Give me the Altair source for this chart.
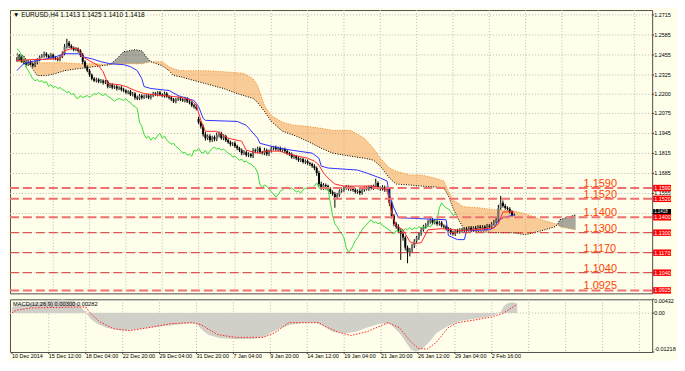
import altair as alt
import pandas as pd

# ---------------- data ----------------
close = [
    1.2430, 1.2443, 1.2417, 1.2405, 1.2392, 1.2411, 1.2398, 1.2385, 1.2405, 1.2424,
    1.2443, 1.2450, 1.2463, 1.2450, 1.2437, 1.2456, 1.2437, 1.2430, 1.2424, 1.2443,
    1.2463, 1.2508, 1.2534, 1.2514, 1.2501, 1.2489, 1.2495, 1.2482, 1.2456, 1.2411,
    1.2379, 1.2353, 1.2327, 1.2301, 1.2288, 1.2295, 1.2282, 1.2288, 1.2275, 1.2282,
    1.2250, 1.2262, 1.2243, 1.2250, 1.2237, 1.2243, 1.2230, 1.2224, 1.2211, 1.2217,
    1.2198, 1.2204, 1.2178, 1.2172, 1.2191, 1.2178, 1.2185, 1.2191, 1.2178, 1.2191,
    1.2204, 1.2198, 1.2211, 1.2198, 1.2191, 1.2204, 1.2185, 1.2178, 1.2166, 1.2153,
    1.2166, 1.2172, 1.2166, 1.2159, 1.2172, 1.2153, 1.2146, 1.2127, 1.2120, 1.2107,
    1.2017, 1.1991, 1.1939, 1.1914, 1.1927, 1.1901, 1.1920, 1.1907, 1.1933, 1.1946,
    1.1914, 1.1927, 1.1901, 1.1888, 1.1875, 1.1881, 1.1862, 1.1849, 1.1836, 1.1817,
    1.1823, 1.1804, 1.1810, 1.1797, 1.1836, 1.1830, 1.1849, 1.1823, 1.1817, 1.1836,
    1.1810, 1.1830, 1.1849, 1.1855, 1.1843, 1.1849, 1.1836, 1.1843, 1.1830, 1.1817,
    1.1810, 1.1791, 1.1797, 1.1784, 1.1771, 1.1778, 1.1759, 1.1765, 1.1752, 1.1746,
    1.1733, 1.1720, 1.1688, 1.1616, 1.1591, 1.1610, 1.1603, 1.1584, 1.1565, 1.1552,
    1.1532, 1.1545, 1.1571, 1.1578, 1.1591, 1.1597, 1.1584, 1.1591, 1.1578, 1.1565,
    1.1571, 1.1558, 1.1578, 1.1591, 1.1584, 1.1597, 1.1591, 1.1603, 1.1623, 1.1591,
    1.1584, 1.1597, 1.1578, 1.1584, 1.1494, 1.1410, 1.1358, 1.1339, 1.1313, 1.1293,
    1.1268, 1.1203, 1.1171, 1.1190, 1.1216, 1.1248, 1.1268, 1.1293, 1.1319, 1.1339,
    1.1352, 1.1371, 1.1384, 1.1365, 1.1371, 1.1358, 1.1365, 1.1345, 1.1339, 1.1326,
    1.1319, 1.1300, 1.1293, 1.1313, 1.1306, 1.1319, 1.1313, 1.1326, 1.1319, 1.1332,
    1.1319, 1.1332, 1.1326, 1.1339, 1.1332, 1.1339, 1.1326, 1.1345, 1.1339, 1.1358,
    1.1371, 1.1384, 1.1461, 1.1494, 1.1474, 1.1461, 1.1455, 1.1436, 1.1413, 1.1418,
]
# upper / lower shadows in pips
wick_up = [
    10, 12, 8, 9, 7, 11, 9, 8, 12, 10,
    9, 11, 14, 10, 9, 12, 8, 10, 11, 13,
    15, 18, 26, 12, 10, 9, 11, 8, 10, 12,
    9, 8, 11, 7, 10, 12, 9, 11, 8, 10,
    9, 12, 10, 8, 11, 9, 10, 12, 8, 9,
    11, 10, 9, 13, 10, 8, 12, 10, 9, 11,
    12, 10, 9, 11, 8, 13, 10, 9, 11, 10,
    9, 12, 10, 8, 11, 9, 10, 8, 9, 12,
    14, 10, 12, 16, 11, 13, 10, 12, 18, 11,
    10, 12, 9, 11, 10, 8, 12, 10, 9, 11,
    13, 10, 12, 9, 14, 11, 10, 12, 9, 15,
    11, 10, 14, 9, 12, 10, 11, 9, 10, 12,
    9, 11, 10, 8, 12, 10, 9, 11, 10, 8,
    9, 12, 10, 14, 16, 12, 10, 9, 11, 10,
    12, 14, 10, 9, 11, 13, 10, 12, 9, 11,
    10, 12, 9, 11, 13, 10, 12, 9, 28, 11,
    10, 12, 9, 14, 10, 13, 11, 12, 15, 14,
    16, 12, 14, 11, 13, 10, 12, 11, 14, 12,
    10, 13, 12, 11, 14, 10, 12, 11, 9, 12,
    10, 11, 13, 9, 12, 10, 11, 9, 12, 10,
    11, 9, 12, 10, 11, 9, 10, 12, 11, 10,
    12, 14, 20, 45, 15, 12, 10, 11, 9, 7,
]
wick_dn = [
    11, 9, 12, 10, 13, 8, 10, 12, 9, 11,
    10, 8, 12, 11, 9, 10, 13, 9, 11, 10,
    9, 10, 12, 14, 11, 10, 9, 12, 14, 16,
    12, 10, 14, 11, 9, 12, 10, 11, 13, 9,
    12, 10, 11, 9, 13, 10, 12, 11, 9, 12,
    10, 12, 14, 11, 10, 12, 9, 11, 10, 12,
    10, 9, 12, 11, 10, 13, 9, 12, 11, 10,
    12, 10, 11, 9, 13, 10, 12, 11, 14, 12,
    12, 15, 14, 16, 12, 14, 11, 13, 12, 14,
    11, 13, 12, 10, 14, 12, 11, 13, 12, 14,
    12, 11, 13, 10, 12, 14, 11, 12, 10, 13,
    11, 12, 10, 13, 11, 12, 10, 11, 13, 12,
    11, 10, 12, 13, 11, 12, 10, 12, 11, 13,
    12, 14, 18, 16, 14, 12, 13, 11, 14, 12,
    70, 15, 12, 11, 13, 12, 11, 14, 12, 11,
    12, 13, 11, 12, 10, 12, 11, 13, 12, 11,
    12, 10, 13, 11, 20, 18, 16, 14, 15, 170,
    20, 18, 70, 25, 18, 16, 14, 15, 13, 12,
    12, 11, 13, 12, 11, 13, 12, 11, 13, 12,
    11, 13, 12, 14, 11, 12, 13, 11, 12, 10,
    12, 11, 13, 10, 12, 11, 12, 10, 11, 12,
    11, 10, 13, 12, 11, 12, 10, 11, 9, 3,
]
first_open = 1.2424
gap_open = {80: 1.2040}

tenkan_i = [0, 5, 19, 21, 25, 27, 29, 32, 36, 38, 40, 45, 48, 52, 56, 60, 64, 69, 73, 77,
            79, 81, 83, 88, 93, 99, 101, 106, 110, 116, 118, 124, 128, 131, 133, 135, 137, 140, 144, 157,
            163, 165, 167, 170, 173, 175, 178, 181, 187, 197, 210, 212, 214, 219]
tenkan_p = [1.2417, 1.2424, 1.2430, 1.2482, 1.2501, 1.2495, 1.2443, 1.2417, 1.2385, 1.2346,
            1.2269, 1.2262, 1.2250, 1.2224, 1.2204, 1.2198, 1.2191, 1.2185, 1.2178, 1.2159,
            1.2127, 1.2030, 1.1959, 1.1959, 1.1914, 1.1894, 1.1836, 1.1817, 1.1830, 1.1830,
            1.1817, 1.1797, 1.1784, 1.1765, 1.1739, 1.1688, 1.1655, 1.1616, 1.1603, 1.1603,
            1.1578, 1.1429, 1.1345, 1.1319, 1.1242, 1.1229, 1.1235, 1.1319, 1.1326, 1.1313,
            1.1332, 1.1358, 1.1435, 1.1435]

kijun_i = [0, 3, 8, 13, 17, 21, 27, 29, 33, 37, 41, 47, 50, 53, 55, 56, 59, 67, 71, 75,
           78, 80, 82, 83, 97, 101, 106, 107, 112, 116, 121, 130, 133, 134, 137, 150, 154, 160, 163, 164,
           166, 168, 189, 190, 194, 197, 198, 208, 210, 212, 214, 219]
kijun_p = [1.2353, 1.2398, 1.2417, 1.2430, 1.2443, 1.2463, 1.2463, 1.2443, 1.2430, 1.2411,
           1.2398, 1.2392, 1.2379, 1.2353, 1.2301, 1.2250, 1.2237, 1.2224, 1.2191, 1.2172,
           1.2159, 1.2120, 1.2043, 1.2030, 1.2023, 1.1998, 1.1914, 1.1881, 1.1862, 1.1849,
           1.1836, 1.1817, 1.1784, 1.1733, 1.1720, 1.1707, 1.1688, 1.1655, 1.1636, 1.1545,
           1.1461, 1.1397, 1.1384, 1.1281, 1.1255, 1.1255, 1.1313, 1.1319, 1.1332, 1.1377,
           1.1397, 1.1416]

cloud_i = [0, 3, 5, 9, 13, 17, 21, 27, 34, 41, 44, 47, 52, 55, 57, 59, 64, 67, 69, 72,
           75, 83, 91, 97, 100, 104, 106, 109, 112, 117, 122, 128, 134, 139, 147, 153, 157, 160, 164, 167,
           173, 178, 184, 188, 190, 192, 194, 196, 197, 204, 211, 218, 224, 231, 237, 238, 239, 246]
span_a = [1.2411, 1.2411, 1.2404, 1.2404, 1.2404, 1.2404, 1.2404, 1.2398, 1.2398, 1.2392,
          1.2398, 1.2398, 1.2398, 1.2398, 1.2404, 1.2411, 1.2411, 1.2379, 1.2366, 1.2353,
          1.2353, 1.2353, 1.2346, 1.2340, 1.2334, 1.2301, 1.2256, 1.2127, 1.2062, 1.2017,
          1.1998, 1.1991, 1.1978, 1.1965, 1.1965, 1.1914, 1.1849, 1.1784, 1.1720, 1.1700,
          1.1675, 1.1675, 1.1655, 1.1636, 1.1571, 1.1513, 1.1494, 1.1474, 1.1468, 1.1461,
          1.1448, 1.1442, 1.1423, 1.1384, 1.1358, 1.1352, 1.1339, 1.1319]
span_b = [1.2463, 1.2450, 1.2404, 1.2321, 1.2321, 1.2334, 1.2353, 1.2366, 1.2379, 1.2392,
          1.2430, 1.2476, 1.2489, 1.2482, 1.2443, 1.2411, 1.2385, 1.2353, 1.2321, 1.2314,
          1.2301, 1.2269, 1.2237, 1.2204, 1.2191, 1.2172, 1.2146, 1.2088, 1.2023, 1.1959,
          1.1933, 1.1894, 1.1849, 1.1817, 1.1797, 1.1784, 1.1771, 1.1733, 1.1655, 1.1616,
          1.1610, 1.1603, 1.1597, 1.1591, 1.1539, 1.1461, 1.1397, 1.1345, 1.1313, 1.1306,
          1.1300, 1.1300, 1.1287, 1.1313, 1.1339, 1.1352, 1.1384, 1.1416]

macd_i = [0, 5, 12, 18, 22, 27, 29, 32, 34, 37, 41, 48, 53, 60, 69, 77, 80, 82, 85, 90,
          97, 104, 109, 112, 116, 121, 128, 132, 135, 139, 144, 149, 154, 160, 164, 168, 171, 173, 175, 178,
          181, 184, 189, 194, 199, 205, 209, 212, 213, 215, 217, 219]
macd_v = [0.0020, 0.0027, 0.0034, 0.0040, 0.0043, 0.0038, 0.0025, 0.0003, -0.0018, -0.0033,
          -0.0046, -0.0055, -0.0052, -0.0045, -0.0038, -0.0032, -0.0033, -0.0050, -0.0068, -0.0078,
          -0.0082, -0.0081, -0.0076, -0.0062, -0.0048, -0.0036, -0.0030, -0.0031, -0.0040, -0.0058,
          -0.0064, -0.0058, -0.0045, -0.0032, -0.0034, -0.0062, -0.0094, -0.0115, -0.0121, -0.0112,
          -0.0090, -0.0062, -0.0040, -0.0025, -0.0019, -0.0014, -0.0007, 0.0005, 0.0020, 0.0032,
          0.0034, 0.0030]
signal_i = [0, 2, 8, 27, 32, 34, 38, 44, 51, 59, 69, 78, 82, 89, 97, 109, 114, 120, 125, 133,
            137, 142, 147, 154, 163, 168, 172, 176, 180, 184, 189, 193, 201, 208, 213, 215, 219]
signal_v = [0.0001, 0.0009, 0.0016, 0.0019, 0.0019, 0.0000, -0.0027, -0.0049, -0.0055, -0.0046,
            -0.0033, -0.0030, -0.0036, -0.0067, -0.0076, -0.0076, -0.0061, -0.0030, -0.0030, -0.0030,
            -0.0046, -0.0061, -0.0070, -0.0058, -0.0030, -0.0046, -0.0082, -0.0110, -0.0113, -0.0091,
            -0.0046, -0.0030, -0.0021, -0.0012, 0.0000, 0.0009, 0.00282]

levels_major = [1.1590, 1.1520, 1.1400, 1.0925]
levels_minor = [1.1300, 1.1170, 1.1040]
bid_price = 1.1418
price_ticks = [1.2715, 1.2585, 1.2455, 1.2325, 1.2200, 1.2075, 1.1945, 1.1815,
               1.1685, 1.1555, 1.1425, 1.1300, 1.1170, 1.1040]
price_labels_shown = [1.2715, 1.2585, 1.2455, 1.2325, 1.2200, 1.2075, 1.1945, 1.1815,
                      1.1685, 1.1555]
macd_ticks = [0.00432, 0.0, -0.01218]
macd_tick_labels = ["0.00432", "0.00", "-0.01218"]
time_idx = [0, 16, 32, 48, 64, 80, 96, 112, 128, 144, 160, 176, 192, 208]
time_labels = ["10 Dec 2014", "15 Dec 12:00", "18 Dec 04:00", "22 Dec 20:00", "29 Dec 04:00",
               "31 Dec 20:00", "7 Jan 04:00", "9 Jan 20:00", "14 Jan 12:00", "19 Jan 04:00",
               "21 Jan 20:00", "26 Jan 12:00", "29 Jan 04:00", "2 Feb 16:00"]
grid_idx = [16, 32, 48, 64, 80, 96, 112, 128, 144, 160, 176, 192, 208, 224, 240, 256, 272]
header_text = "\u25BC EURUSD,H4  1.1413 1.1425 1.1410 1.1418"
macd_text = "MACD(12,26,9) 0.00300 0.00282"
CHIKOU_SHIFT = 26
LABEL_BAR = 249.5

# ---------------- layout ----------------
W = 646
H_MAIN = 285
H_MACD = 53
X_DOMAIN = [-0.84, 277.5]
Y_DOMAIN = [1.09058, 1.27469]
M_DOMAIN = [-0.01218, 0.00432]
BOX_HALF = 0.0021
FONT = "Liberation Sans"
BG = "#FEFEEA"
GRID = "#B8B8B8"
AX_FS = 5.5

# ---------------- tables ----------------
rows = []
prev = first_open
for i, c in enumerate(close):
    o = gap_open.get(i, prev)
    rows.append({"i": i, "open": o, "close": c,
                 "high": max(o, c) + wick_up[i] * 0.0001,
                 "low": min(o, c) - wick_dn[i] * 0.0001})
    prev = c
candle_df = pd.DataFrame(rows)

chikou_df = pd.DataFrame([{"i": i - CHIKOU_SHIFT, "p": c}
                          for i, c in enumerate(close) if i >= CHIKOU_SHIFT])
tenkan_df = pd.DataFrame({"i": tenkan_i, "p": tenkan_p})
kijun_df = pd.DataFrame({"i": kijun_i, "p": kijun_p})
cloud_df = pd.DataFrame({"i": cloud_i, "a": span_a, "b": span_b})

cloud_rows = []
seg = 0
cur = None
pending = None
for i, a, b in zip(cloud_i, span_a, span_b):
    kind = "up" if a > b else ("down" if a < b else None)
    pt = {"i": i, "a": a, "b": b}
    if kind is None:
        if cur is not None:
            cloud_rows.append({**pt, "seg": seg, "kind": cur})
        seg += 1
        cur = None
        pending = pt
        continue
    if cur is None:
        cur = kind
        if pending is not None:
            cloud_rows.append({**pending, "seg": seg, "kind": cur})
            pending = None
    elif kind != cur:
        seg += 1
        cur = kind
    cloud_rows.append({**pt, "seg": seg, "kind": cur})
cloud_seg_df = pd.DataFrame(cloud_rows)

all_levels = levels_major + levels_minor
major_df = pd.DataFrame({"p": levels_major})
minor_df = pd.DataFrame({"p": levels_minor})
level_df = pd.DataFrame({"p": all_levels,
                         "lab": [f"{v:.4f}" for v in all_levels],
                         "lx": [LABEL_BAR] * len(all_levels),
                         "lo": [v - BOX_HALF for v in all_levels],
                         "hi": [v + BOX_HALF for v in all_levels]})
bid_df = pd.DataFrame({"p": [bid_price], "lab": [f"{bid_price:.4f}"],
                       "lo": [bid_price - 0.0004], "hi": [bid_price + 0.0036]})
pt_df = pd.DataFrame({"p": price_ticks})
pl_df = pd.DataFrame({"p": price_labels_shown, "lab": [f"{v:.4f}" for v in price_labels_shown]})
grid_df = pd.DataFrame({"i": grid_idx})
time_df = pd.DataFrame({"i": time_idx, "lab": time_labels})
macd_df = pd.DataFrame({"i": macd_i, "v": macd_v, "z": [0.0] * len(macd_i)})
signal_df = pd.DataFrame({"i": signal_i, "v": signal_v})
mt_df = pd.DataFrame({"v": macd_ticks, "lab": macd_tick_labels})

# ---------------- main panel ----------------
xs = alt.Scale(domain=X_DOMAIN, nice=False, zero=False)
ys = alt.Scale(domain=Y_DOMAIN, nice=False, zero=False)


def X(f="i"):
    return alt.X(f"{f}:Q", scale=xs, axis=None)


def Y(f):
    return alt.Y(f"{f}:Q", scale=ys, axis=None)


vgrid = alt.Chart(grid_df).mark_rule(color=GRID, strokeDash=[1, 2], strokeWidth=1).encode(x=X())
hgrid = alt.Chart(pt_df).mark_rule(color=GRID, strokeDash=[1, 2], strokeWidth=1).encode(y=Y("p"))
ptick = alt.Chart(pt_df).mark_rule(color="#404040", strokeWidth=1).encode(
    x=alt.value(W), x2=alt.value(W + 2), y=Y("p"))
plab = alt.Chart(pl_df).mark_text(align="left", baseline="middle", fontSize=AX_FS, font=FONT,
                                  color="#000000").encode(
    x=alt.value(W + 2), y=Y("p"), text="lab:N")

cloud_area = alt.Chart(cloud_seg_df).mark_area().encode(
    x=X(), y=Y("a"), y2="b:Q",
    color=alt.Color("kind:N", scale=alt.Scale(domain=["up", "down"], range=["#F4A050", "#303030"]),
                    legend=None),
    opacity=alt.Opacity("kind:N", scale=alt.Scale(domain=["up", "down"], range=[0.55, 0.42]),
                        legend=None),
    detail="seg:N",
)
cloud_a_line = alt.Chart(cloud_df).mark_line(color="#F08A20", strokeDash=[1, 1.5], strokeWidth=1).encode(
    x=X(), y=Y("a"))
cloud_b_line = alt.Chart(cloud_df).mark_line(color="#000000", strokeDash=[1, 1.5], strokeWidth=1).encode(
    x=X(), y=Y("b"))

wicks = alt.Chart(candle_df).mark_rule(color="#000000", strokeWidth=1).encode(
    x=X(), y=Y("low"), y2="high:Q")
bodies = alt.Chart(candle_df).mark_bar(size=2).encode(
    x=X(), y=Y("open"), y2="close:Q",
    color=alt.condition("datum.close >= datum.open", alt.value("#6A6A6A"), alt.value("#000000")))

chikou = alt.Chart(chikou_df).mark_line(color="#33DD33", strokeWidth=1).encode(x=X(), y=Y("p"))
kijun = alt.Chart(kijun_df).mark_line(color="#3030FF", strokeWidth=1).encode(x=X(), y=Y("p"))
tenkan = alt.Chart(tenkan_df).mark_line(color="#FF2A2A", strokeWidth=1).encode(x=X(), y=Y("p"))

lv_major = alt.Chart(major_df).mark_rule(color="#F07070", strokeWidth=2, strokeDash=[9, 4]).encode(y=Y("p"))
lv_minor = alt.Chart(minor_df).mark_rule(color="#D83030", strokeWidth=1, strokeDash=[9, 4]).encode(y=Y("p"))

level_text = alt.Chart(level_df).mark_text(align="left", baseline="alphabetic", dy=-1, fontSize=11,
                                           font=FONT, color="#FF4500").encode(
    x=alt.X("lx:Q", scale=xs, axis=None), y=Y("p"), text="lab:N")

bid_box = alt.Chart(bid_df).mark_rect(color="#000000").encode(
    x=alt.value(W + 1), x2=alt.value(W + 19), y=Y("lo"), y2="hi:Q")
bid_txt = alt.Chart(bid_df).mark_text(align="left", baseline="top", dy=0.5, fontSize=4.5, font=FONT,
                                      color="#FFFFFF").encode(
    x=alt.value(W + 2), y=Y("hi"), text="lab:N")
lvl_box = alt.Chart(level_df).mark_rect(color="#FF0000").encode(
    x=alt.value(W + 1), x2=alt.value(W + 19), y=Y("lo"), y2="hi:Q")
lvl_txt = alt.Chart(level_df).mark_text(align="left", baseline="middle", fontSize=AX_FS, font=FONT,
                                        color="#FFFFFF").encode(
    x=alt.value(W + 2), y=Y("p"), text="lab:N")

header = alt.Chart(pd.DataFrame({"t": [header_text]})).mark_text(
    align="left", baseline="top", fontSize=6.5, font=FONT, color="#000000").encode(
    x=alt.value(3), y=alt.value(1.5), text="t:N")

main = alt.layer(vgrid, hgrid, cloud_area, cloud_a_line, cloud_b_line, wicks, bodies,
                 chikou, kijun, tenkan, lv_major, lv_minor, level_text, ptick, plab,
                 bid_box, bid_txt, lvl_box, lvl_txt, header).properties(width=W, height=H_MAIN)

# ---------------- MACD panel ----------------
ms = alt.Scale(domain=M_DOMAIN, nice=False, zero=False)


def MY(f):
    return alt.Y(f"{f}:Q", scale=ms, axis=None)


mgrid = alt.Chart(grid_df).mark_rule(color=GRID, strokeDash=[1, 2], strokeWidth=1).encode(x=X())
zero_grid = alt.Chart(mt_df).transform_filter("datum.v == 0").mark_rule(
    color=GRID, strokeDash=[1, 2], strokeWidth=1).encode(y=MY("v"))
hist = alt.Chart(macd_df).mark_area(color="#D0D0C8", opacity=1).encode(
    x=X(), y=MY("v"), y2="z:Q")
signal = alt.Chart(signal_df).mark_line(color="#FF2020", strokeDash=[1.5, 1.5], strokeWidth=1).encode(
    x=X(), y=MY("v"))
macd_lab = alt.Chart(pd.DataFrame({"t": [macd_text]})).mark_text(
    align="left", baseline="middle", fontSize=5.8, font=FONT, color="#000000").encode(
    x=alt.value(3), y=alt.value(5), text="t:N")
mtick = alt.Chart(mt_df).mark_rule(color="#404040", strokeWidth=1).encode(
    x=alt.value(W), x2=alt.value(W + 2), y=MY("v"))
mlab_top = alt.Chart(mt_df).transform_filter("datum.v > 0").mark_text(
    align="left", baseline="top", fontSize=AX_FS, font=FONT, color="#000000").encode(
    x=alt.value(W + 2), y=MY("v"), text="lab:N")
mlab_mid = alt.Chart(mt_df).transform_filter("datum.v == 0").mark_text(
    align="left", baseline="middle", fontSize=AX_FS, font=FONT, color="#000000").encode(
    x=alt.value(W + 2), y=MY("v"), text="lab:N")
mlab_bot = alt.Chart(mt_df).transform_filter("datum.v < 0").mark_text(
    align="left", baseline="bottom", fontSize=AX_FS, font=FONT, color="#000000").encode(
    x=alt.value(W + 2), y=MY("v"), text="lab:N")
ttick = alt.Chart(time_df).mark_rule(color="#404040", strokeWidth=1).encode(
    x=X(), y=alt.value(H_MACD), y2=alt.value(H_MACD + 2))
tlab = alt.Chart(time_df).mark_text(align="left", baseline="top", fontSize=5.5, font=FONT,
                                    color="#000000").encode(
    x=X(), y=alt.value(H_MACD + 2), text="lab:N")

macd = alt.layer(mgrid, zero_grid, hist, signal, macd_lab, mtick, mlab_top, mlab_mid, mlab_bot,
                 ttick, tlab).properties(width=W, height=H_MACD)

chart = alt.vconcat(main, macd, spacing=3).properties(
    padding=0, background=BG
).configure_view(stroke="#505050", strokeWidth=1)

chart.save("out.html", embed_options={"renderer": "svg", "actions": False})
